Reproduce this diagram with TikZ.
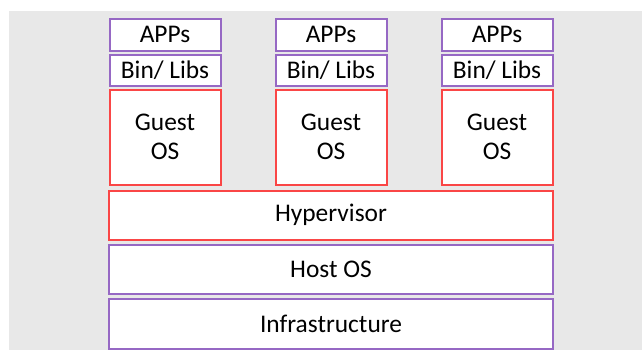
\documentclass[tikz,border=0pt]{standalone}
\usepackage{fontspec}
\setmainfont{Carlito}
\usepackage{xcolor}
\usepackage{tikz}
\definecolor{layerpurple}{RGB}{150,104,196}
\definecolor{layerred}{RGB}{250,70,70}
\definecolor{panelgray}{RGB}{232,232,232}
\tikzset{
  layer/.style={rectangle, draw=#1, fill=white, line width=2bp,
                inner sep=0pt, align=center,
                font=\fontsize{25.5}{29}\selectfont},
  vmbox/.style={layer=#1, minimum width=111bp},
  stackbox/.style={layer=#1, minimum width=444bp},
}

\begin{document}
\begin{tikzpicture}[x=1bp, y=-1bp]
  \useasboundingbox (0,0) rectangle (642,353);
  % grey panel behind the stack
  \fill[panelgray] (9,11) rectangle (642,350);
  % one column per virtual machine
  \foreach \i/\cx in {1/165, 2/331, 3/497} {
    \node[vmbox=layerpurple, minimum height=32bp] (apps\i) at (\cx,34.5) {APPs};
    \node[vmbox=layerpurple, minimum height=31bp] (libs\i) at (\cx,70) {Bin/ Libs};
    \node[vmbox=layerred, minimum height=95bp]    (guest\i) at (\cx,137) {Guest\\OS};
  }
  % shared layers underneath
  \node[stackbox=layerred, minimum height=49bp]    (hypervisor) at (331,215) {Hypervisor};
  \node[stackbox=layerpurple, minimum height=49bp] (hostos) at (331,269) {Host OS};
  \node[stackbox=layerpurple, minimum height=50bp] (infra) at (331,323.5) {Infrastructure};
\end{tikzpicture}
\end{document}
